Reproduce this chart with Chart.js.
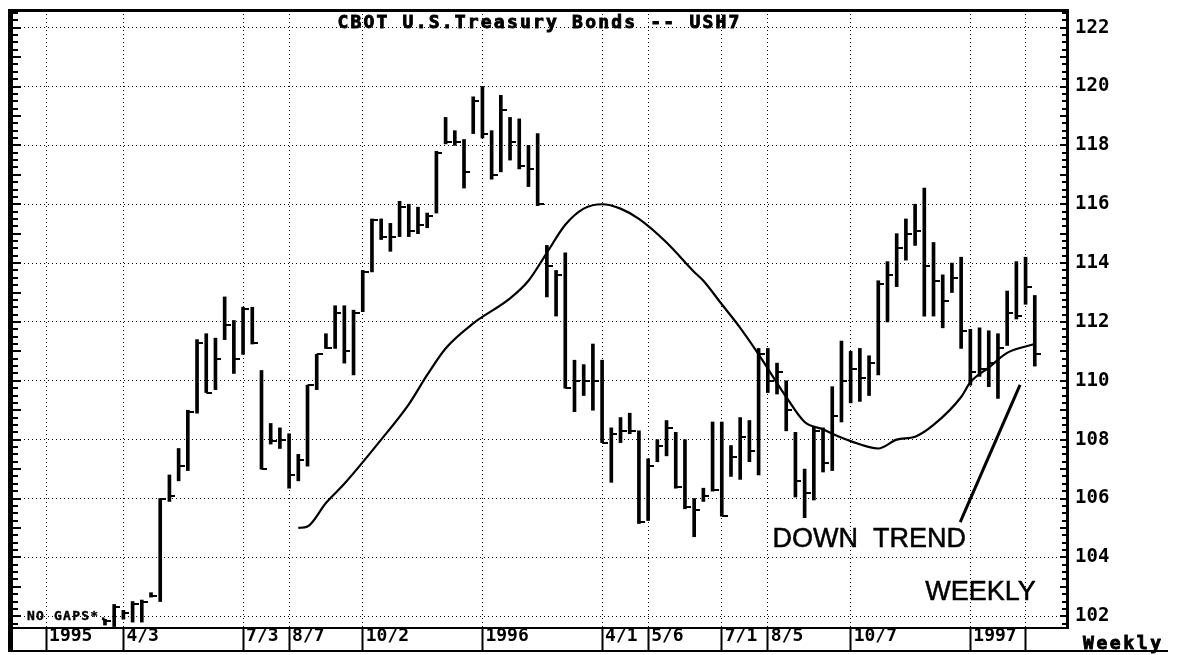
<!DOCTYPE html>
<html>
<head>
<meta charset="utf-8">
<title>CBOT U.S. Treasury Bonds - USH7 weekly</title>
<script src="https://cdn.jsdelivr.net/npm/chart.js@4.4.1/dist/chart.umd.min.js"></script>
<style>
  html, body { margin: 0; padding: 0; background: #fff; }
  canvas { display: block; }
</style>
</head>
<body>
<canvas id="bondChart" width="1177" height="655"></canvas>
<script>
// week 0 = week of 4/3/1995, the first bar is week -2
const firstWeek = -2;

const highs = [
    101.9, 102.4, 102.2, 102.5, 102.55, 102.8, 106.0, 106.8, 107.7, 109.0,
    111.4, 111.6, 111.45, 112.85, 112.05, 112.5, 112.5, 110.35, 108.55, 108.4,
    108.2, 107.5, 109.85, 110.9, 111.6, 112.55, 112.55, 112.4, 113.75, 115.5,
    115.5, 115.35, 116.1, 116.0, 115.9, 115.7, 117.8, 118.95, 118.5, 118.2,
    119.65, 120.0, 118.5, 119.7, 118.95, 118.9, 118.0, 118.4, 114.6, 113.75,
    114.35, 110.7, 110.55, 111.25, 110.7, 108.4, 108.75, 108.9, 108.3, 107.35,
    108.0, 108.65, 108.25, 108.0, 106.0, 106.35, 108.6, 108.6, 107.8, 108.75,
    108.65, 111.1, 111.1, 110.6, 110.0, 108.25, 107.0, 108.45, 108.4, 109.8,
    111.35, 111.0, 111.1, 110.85, 113.4, 114.05, 115.0, 115.5, 116.0, 116.55,
    114.7, 113.6, 114.0, 114.2, 111.75, 111.8, 111.7, 111.6, 113.05, 114.05,
    114.2, 112.9
];
const lows = [
    101.7, 101.65, 101.9, 101.8, 101.8, 102.65, 102.5, 105.9, 106.6, 106.95,
    108.9, 109.6, 109.7, 111.4, 110.25, 110.9, 111.25, 107.0, 107.85, 107.7,
    106.35, 106.6, 107.1, 109.7, 111.1, 111.1, 110.6, 110.2, 112.35, 113.7,
    114.8, 114.4, 114.9, 114.9, 115.0, 115.2, 115.7, 118.05, 118.0, 116.55,
    118.4, 118.25, 116.85, 117.1, 117.5, 117.2, 116.6, 115.95, 112.85, 112.2,
    109.75, 108.95, 109.5, 109.0, 107.9, 106.55, 107.9, 108.2, 105.15, 105.25,
    107.25, 107.45, 106.35, 105.65, 104.7, 105.9, 106.25, 105.4, 106.75, 106.65,
    107.25, 106.8, 109.6, 109.55, 108.3, 106.05, 105.35, 105.95, 106.9, 106.95,
    108.6, 109.25, 109.3, 109.5, 110.2, 112.0, 113.2, 114.1, 114.6, 112.2,
    112.2, 111.8, 113.0, 111.1, 109.85, 110.15, 109.8, 109.4, 111.2, 112.1,
    112.6, 110.5
];
const closes = [
    101.85, 102.3, 102.1, 102.4, 102.5, 102.7, 106.0, 106.1, 107.1, 108.95,
    111.3, 109.6, 110.75, 111.9, 110.75, 112.45, 111.3, 107.0, 107.95, 108.0,
    106.8, 107.3, 109.85, 110.9, 111.1, 112.3, 111.0, 112.3, 113.7, 115.45,
    114.9, 114.9, 115.9, 115.1, 115.3, 115.6, 117.75, 118.1, 118.1, 117.1,
    119.5, 118.4, 117.0, 119.2, 118.1, 117.3, 117.2, 116.0, 113.9, 113.6,
    109.75, 110.0, 110.0, 110.0, 107.9, 108.2, 108.3, 108.3, 105.2, 107.1,
    107.8, 108.4, 106.4, 105.7, 105.6, 106.1, 106.3, 105.4, 107.4, 108.1,
    107.6, 110.9, 110.0, 110.3, 109.0, 106.6, 106.2, 108.3, 107.2, 108.8,
    110.0, 110.4, 110.1, 110.6, 113.3, 113.6, 114.5, 115.0, 115.1, 113.9,
    113.4, 112.7, 113.5, 111.7, 110.3, 110.4, 110.6, 111.1, 112.3, 112.2,
    113.2, 110.9
];

// moving average at these weeks
const maWeeks = [19, 20, 22, 24, 28, 31, 33, 35, 38, 42, 44, 46, 48, 50, 52, 54, 56, 59, 62, 63,
    65, 67, 69, 72, 74, 76, 77, 79, 82, 84, 86, 88, 91, 92, 94, 96, 99];
const maValues = [105.0, 105.05, 105.85, 106.5, 108.0, 109.2, 110.2, 111.1, 111.95, 112.8, 113.4,
    114.35, 115.3, 115.85, 116.0, 115.85, 115.5, 114.7, 113.7, 113.4,
    112.6, 111.8, 110.9, 109.45, 108.6, 108.35, 108.2, 107.95, 107.7, 108.0, 108.1, 108.5,
    109.45, 109.95, 110.45, 110.95, 111.25];

// hand drawn trend line
const trendWeeks = [90.9, 97.4];
const trendValues = [105.2, 109.86];

// date boxes along the bottom
const dateWeeks = [-8.4, 0, 13, 18, 26, 39, 52, 57, 65, 70, 79, 92, 98];
const dateLabels = ["1995", "4/3", "7/3", "8/7", "10/2", "1996", "4/1", "5/6", "7/1", "8/5", "10/7", "1997", ""];

const priceTicks = [102, 104, 106, 108, 110, 112, 114, 116, 118, 120, 122];

const titleText = "CBOT U.S.Treasury Bonds -- USH7";

// close tick: little dash to the right of the bar
const closeTick = document.createElement("canvas");
closeTick.width = 12;
closeTick.height = 2;
closeTick.getContext("2d").fillRect(6, 0, 6, 2);

const rangeData = highs.map((h, i) => ({ x: firstWeek + i, y: [lows[i], h] }));
const closeData = closes.map((c, i) => ({ x: firstWeek + i, y: c }));
const maData = maWeeks.map((w, i) => ({ x: w, y: maValues[i] }));
const trendData = trendWeeks.map((w, i) => ({ x: w, y: trendValues[i] }));

const MONO = '"DejaVu Sans Mono", "Liberation Mono", monospace';

function heavyText(ctx, text, x, y) {
    ctx.fillText(text, x, y);
    ctx.strokeText(text, x, y);
}

// frame, edge ticks, title and notes
const framePlugin = {
    id: "frame",
    afterDraw(chart) {
        const { ctx, chartArea: a, scales: { x, y } } = chart;
        ctx.save();
        ctx.fillStyle = "#000";
        ctx.strokeStyle = "#000";

        // top and left border
        ctx.fillRect(8, a.top - 1, a.right - 8 + 2, 3);
        ctx.fillRect(8, a.top - 1, 5, 652 - a.top);

        // small ticks on both price edges
        for (let v = 101.75; v <= 122.5; v += 0.25) {
            const py = Math.round(y.getPixelForValue(v));
            const major = v % 1 === 0;
            ctx.fillRect(13, py - 1, major ? 8 : 5, 2);
            ctx.fillRect(a.right - (major ? 7 : 5), py - 1, major ? 7 : 5, 2);
        }

        // bottom of the date row
        ctx.fillRect(8, 650, 1160, 2);

        // title
        ctx.lineWidth = 0.9;
        ctx.font = "bold 18px " + MONO;
        ctx.letterSpacing = "2.2px";
        ctx.textAlign = "center";
        ctx.textBaseline = "alphabetic";
        heavyText(ctx, titleText, (a.left + a.right) / 2, 28);

        // corner notes
        ctx.textAlign = "left";
        ctx.letterSpacing = "2.6px";
        heavyText(ctx, "Weekly", 1083, 649);

        ctx.font = "bold 13px " + MONO;
        ctx.letterSpacing = "1.2px";
        ctx.lineWidth = 0.4;
        heavyText(ctx, "NO GAPS*.", 27, 620);

        // chart notes
        ctx.letterSpacing = "0px";
        ctx.lineWidth = 0.5;
        ctx.font = '27px "Liberation Sans", Arial, sans-serif';
        ctx.textBaseline = "middle";
        heavyText(ctx, "DOWN  TREND", x.getPixelForValue(70.5), y.getPixelForValue(104.6));
        heavyText(ctx, "WEEKLY", x.getPixelForValue(87.1), y.getPixelForValue(102.8));
        ctx.restore();
    }
};

const ctx = document.getElementById("bondChart").getContext("2d");
const bondChart = new Chart(ctx, {
    type: "line",
    data: {
        datasets: [
            {
                type: "bar",
                label: "High-Low",
                data: rangeData,
                backgroundColor: "#000",
                borderWidth: 0,
                barThickness: 3,
                order: 3
            },
            {
                label: "Close",
                data: closeData,
                showLine: false,
                pointStyle: closeTick,
                pointRadius: 3,
                order: 2
            },
            {
                label: "Moving average",
                data: maData,
                borderColor: "#000",
                borderWidth: 2.2,
                pointRadius: 0,
                cubicInterpolationMode: "monotone",
                fill: false,
                order: 1
            },
            {
                label: "Down trend",
                data: trendData,
                borderColor: "#000",
                borderWidth: 3,
                pointRadius: 0,
                fill: false,
                order: 0
            }
        ]
    },
    options: {
        responsive: false,
        animation: false,
        devicePixelRatio: 1,
        layout: { padding: { left: 12, top: 10, right: 0, bottom: 0 } },
        plugins: {
            legend: { display: false },
            tooltip: { enabled: false },
            title: { display: false }
        },
        scales: {
            x: {
                type: "linear",
                min: -12.1,
                max: 102.5,
                offset: false,
                afterBuildTicks: s => { s.ticks = dateWeeks.map(v => ({ value: v })); },
                afterFit: s => {
                    s.height = 27;
                    s.paddingLeft = 0;
                    s.paddingRight = 0;
                },
                grid: {
                    offset: false,
                    color: "#000",
                    lineWidth: 1,
                    drawTicks: true,
                    tickLength: 24,
                    tickColor: "#000",
                    tickWidth: 2
                },
                border: { display: true, color: "#000", width: 2, dash: [1, 3] },
                ticks: {
                    autoSkip: false,
                    maxRotation: 0,
                    align: "start",
                    labelOffset: 3,
                    padding: -26,
                    color: "#000",
                    font: { family: MONO, size: 18, weight: "bold" },
                    callback: (v, i) => dateLabels[i]
                }
            },
            y: {
                type: "linear",
                position: "right",
                min: 101.6,
                max: 122.6,
                afterBuildTicks: s => { s.ticks = priceTicks.map(v => ({ value: v })); },
                afterFit: s => {
                    s.width = 110;
                    s.paddingTop = 0;
                    s.paddingBottom = 0;
                },
                grid: { color: "#000", lineWidth: 1, drawTicks: false },
                border: { display: true, color: "#000", width: 3, dash: [1, 3] },
                ticks: {
                    padding: 8,
                    color: "#000",
                    font: { family: MONO, size: 19, weight: "bold" },
                    callback: v => String(v)
                }
            }
        }
    },
    plugins: [framePlugin]
});
</script>
</body>
</html>
